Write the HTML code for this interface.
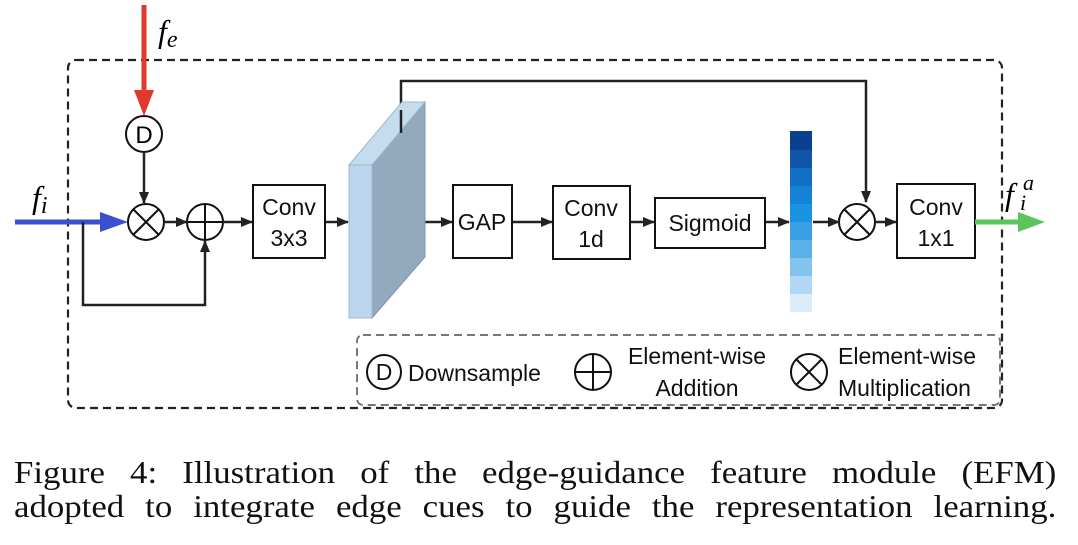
<!DOCTYPE html>
<html><head><meta charset="utf-8"><style>
body{margin:0;background:#fff;width:1078px;height:545px;overflow:hidden;position:relative}
svg{position:absolute;left:0;top:0}
.cap{position:absolute;left:14px;width:958px;font-family:"Liberation Serif",serif;font-size:32px;line-height:34px;top:455px;color:#111;transform:scaleX(1.088);transform-origin:0 0}
.cap div{text-align:justify;text-align-last:justify;white-space:nowrap}
</style></head><body>
<svg width="1078" height="545" viewBox="0 0 1078 545" font-family="Liberation Sans, sans-serif">
<defs>
<marker id="a" markerWidth="12" markerHeight="12" refX="11" refY="6" orient="auto" markerUnits="userSpaceOnUse"><path d="M0,1 L12,6 L0,11 z" fill="#222"/></marker>
</defs>
<rect x="68" y="60" width="934" height="348" rx="8" fill="none" stroke="#222" stroke-width="2.2" stroke-dasharray="8,5"/>
<rect x="357" y="335" width="643" height="70" rx="6" fill="none" stroke="#777" stroke-width="2" stroke-dasharray="8,5"/>
<line x1="144" y1="5" x2="144" y2="92" stroke="#e03a2f" stroke-width="5"/>
<path d="M134,90 L154,90 L144,116 z" fill="#e03a2f"/>
<text x="158" y="42" font-family="Liberation Serif,serif" font-style="italic" font-size="32">f<tspan font-size="24" dy="5">e</tspan></text>
<circle cx="144" cy="134" r="18" fill="#fff" stroke="#111" stroke-width="2"/>
<text x="144" y="143" text-anchor="middle" font-size="24">D</text>
<line x1="144" y1="152" x2="144" y2="203" stroke="#222" stroke-width="2.5" marker-end="url(#a)"/>
<line x1="15" y1="222" x2="105" y2="222" stroke="#3b4fd1" stroke-width="5"/>
<path d="M100,212 L128,222 L100,232 z" fill="#3b4fd1"/>
<text x="32" y="208" font-family="Liberation Serif,serif" font-style="italic" font-size="32">f<tspan font-size="24" dy="5">i</tspan></text>
<polyline points="83,222 83,305 205,305 205,241" fill="none" stroke="#222" stroke-width="2.5" marker-end="url(#a)"/>
<g stroke="#111" stroke-width="2" fill="#fff">
<circle cx="146" cy="222" r="18"/><line x1="133" y1="209" x2="159" y2="235"/><line x1="159" y1="209" x2="133" y2="235"/>
<circle cx="205" cy="222" r="18"/><line x1="187" y1="222" x2="223" y2="222"/><line x1="205" y1="204" x2="205" y2="240"/>
<circle cx="857" cy="222" r="18"/><line x1="844" y1="209" x2="870" y2="235"/><line x1="870" y1="209" x2="844" y2="235"/>
</g>
<g stroke="#222" stroke-width="2.5" marker-end="url(#a)">
<line x1="164" y1="222" x2="187" y2="222"/>
<line x1="223" y1="222" x2="252" y2="222"/>
<line x1="326" y1="222" x2="348" y2="222"/>
<line x1="420" y1="222" x2="452" y2="222"/>
<line x1="513" y1="222" x2="552" y2="222"/>
<line x1="631" y1="222" x2="654" y2="222"/>
<line x1="766" y1="222" x2="789" y2="222"/>
<line x1="813" y1="222" x2="839" y2="222"/>
<line x1="875" y1="222" x2="896" y2="222"/>
</g>
<polyline points="401,133 401,81 866,81 866,202" fill="none" stroke="#222" stroke-width="2.5" marker-end="url(#a)"/>
<path d="M372,165 L425,102 L425,257 L372,318 z" fill="#93a9bd" stroke="#7f95aa"/>
<path d="M349,165 L402,102 L425,102 L372,165 z" fill="#c5dcef" stroke="#9fb7cc"/>
<rect x="349" y="165" width="23" height="153" fill="#bcd6ee" stroke="#9fb7cc"/>
<line x1="401" y1="133" x2="401" y2="110" stroke="#222" stroke-width="2.5"/>
<g fill="#fff" stroke="#111" stroke-width="2">
<rect x="253" y="185" width="72" height="73"/>
<rect x="453" y="185" width="59" height="73"/>
<rect x="553" y="186" width="77" height="73"/>
<rect x="655" y="198" width="110" height="50"/>
<rect x="897" y="184" width="78" height="74"/>
</g>
<g font-size="23" text-anchor="middle" fill="#111">
<text x="289" y="215">Conv</text><text x="289" y="246">3x3</text>
<text x="482" y="230">GAP</text>
<text x="591" y="216">Conv</text><text x="591" y="247">1d</text>
<text x="710" y="231">Sigmoid</text>
<text x="936" y="215">Conv</text><text x="936" y="246">1x1</text>
</g>
<g>
<rect x="790" y="131" width="22" height="19" fill="#0b3f8f"/>
<rect x="790" y="150" width="22" height="18" fill="#0f56a8"/>
<rect x="790" y="168" width="22" height="18" fill="#136fc4"/>
<rect x="790" y="186" width="22" height="18" fill="#1682d6"/>
<rect x="790" y="204" width="22" height="18" fill="#1a93e2"/>
<rect x="790" y="222" width="22" height="18" fill="#3a9fe4"/>
<rect x="790" y="240" width="22" height="18" fill="#5cb0e8"/>
<rect x="790" y="258" width="22" height="18" fill="#83c3ee"/>
<rect x="790" y="276" width="22" height="18" fill="#b0d8f4"/>
<rect x="790" y="294" width="22" height="18" fill="#dcedf9"/>
</g>
<line x1="975" y1="222" x2="1022" y2="222" stroke="#5bc45a" stroke-width="5"/>
<path d="M1018,212 L1045,222 L1018,232 z" fill="#5bc45a"/>
<text x="1005" y="205" font-family="Liberation Serif,serif" font-style="italic" font-size="32">f</text>
<text x="1023" y="190" font-family="Liberation Serif,serif" font-style="italic" font-size="22">a</text>
<text x="1020" y="210" font-family="Liberation Serif,serif" font-style="italic" font-size="22">i</text>
<g stroke="#111" stroke-width="2" fill="#fff">
<circle cx="384" cy="372" r="17"/>
<circle cx="593" cy="372" r="18"/><line x1="575" y1="372" x2="611" y2="372"/><line x1="593" y1="354" x2="593" y2="390"/>
<circle cx="809" cy="372" r="18"/><line x1="796" y1="359" x2="822" y2="385"/><line x1="822" y1="359" x2="796" y2="385"/>
</g>
<g font-size="23" fill="#111">
<text x="384" y="380" text-anchor="middle">D</text>
<text x="408" y="381">Downsample</text>
<text x="697" y="364" text-anchor="middle">Element-wise</text>
<text x="697" y="396" text-anchor="middle">Addition</text>
<text x="838" y="364">Element-wise</text>
<text x="838" y="396">Multiplication</text>
</g>
</svg>
<div class="cap"><div>Figure 4: Illustration of the edge-guidance feature module (EFM)</div><div>adopted to integrate edge cues to guide the representation learning.</div></div>
</body></html>
